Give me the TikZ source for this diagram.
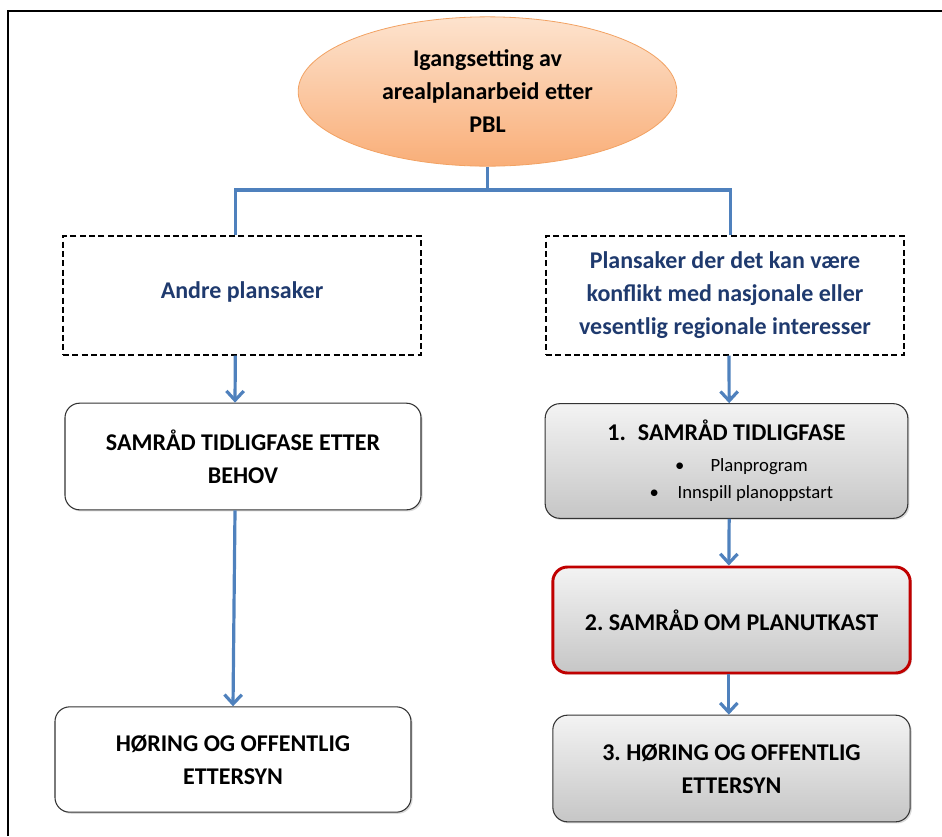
\documentclass[tikz,border=0pt]{standalone}
\usepackage{fontspec}
\setmainfont{Carlito}
\usetikzlibrary{shapes.geometric,arrows.meta,shadows}
\definecolor{linkblue}{HTML}{4F81BD}
\definecolor{casenavy}{HTML}{1F3A6E}
\definecolor{peachtop}{HTML}{FDE3CE}
\definecolor{peachbot}{HTML}{F9AE78}
\definecolor{peachline}{HTML}{F2A263}
\definecolor{greytop}{HTML}{F3F3F3}
\definecolor{greybot}{HTML}{C6C6C6}
\definecolor{stepred}{HTML}{C00000}
\frenchspacing

\begin{document}
\begin{tikzpicture}[x=0.75pt,y=-0.75pt]
            \tikzstyle{big text}=[font=\bfseries\fontsize{18}{24.75}\selectfont,align=center]
            \tikzstyle{start node}=[ellipse,big text,draw=peachline,line width=0.6pt,top color=peachtop,bottom color=peachbot,minimum width=284pt,minimum height=112pt,inner sep=0pt]
            \tikzstyle{case node}=[rectangle,big text,draw,dash pattern=on 4.5pt off 2.5pt,line width=1.1pt,text=casenavy,minimum width=268.5pt,minimum height=89pt]
            \tikzstyle{plain step}=[rectangle,rounded corners=11pt,big text,draw=black!80,line width=0.8pt,fill=white,minimum height=80pt,drop shadow={shadow xshift=1.2pt,shadow yshift=-1.2pt,opacity=0.3}]
            \tikzstyle{grey step}=[plain step,top color=greytop,bottom color=greybot]
            \tikzstyle{link}=[draw=linkblue,line width=2.4pt]
            \tikzstyle{link arrow}=[link,-{Straight Barb[length=7pt,width=13pt,line width=2.4pt]}]

            \useasboundingbox (0,0) rectangle (942,836);
            % frame
            \draw[line width=1.6pt] (8,836) -- (8,11) -- (942,11);

            \node(start)[start node] at (487.5,91.5) {Igangsetting av\\arealplanarbeid etter\\PBL};
            \node(andre)[case node] at (242,295.5) {\raisebox{8pt}{Andre plansaker}};
            \node(konflikt)[case node] at (725,295.5) {Plansaker der det kan være\\konflikt med nasjonale eller\\vesentlig regionale interesser};

            \node(tidlig)[plain step,minimum width=267pt] at (243,456.5) {SAMRÅD TIDLIGFASE ETTER\\BEHOV};
            \node(horing)[plain step,minimum width=267pt,minimum height=79pt] at (233,759.5) {HØRING OG OFFENTLIG\\ETTERSYN};

            \node(fase)[grey step,minimum width=272pt,minimum height=86pt] at (726.5,461) {1.\enspace SAMRÅD TIDLIGFASE\\[-1.5pt]
              {\mdseries\fontsize{14}{20}\selectfont\hspace*{1.6em}\textbullet\hspace{1.4em}Planprogram}\\[-4.5pt]
              {\mdseries\fontsize{14}{20}\selectfont\hspace*{1.6em}\textbullet\hspace{1em}Innspill planoppstart}};
            \node(utkast)[grey step,draw=stepred,line width=2.2pt,minimum width=268pt,minimum height=79.5pt] at (731.5,620) {2. SAMRÅD OM PLANUTKAST};
            \node(horingtre)[grey step,minimum width=268pt] at (731.5,768.5) {3. HØRING OG OFFENTLIG\\ETTERSYN};

            % connectors
            \draw[link] (start.south) -- (487.5,190) coordinate(fork);
            \draw[link] (fork) -| ([xshift=-5pt]andre.north);
            \draw[link] (fork) -| ([xshift=4pt]konflikt.north);
            \draw[link arrow] ([xshift=-5pt]andre.south) -- ([xshift=-6pt]tidlig.north);
            \draw[link arrow] ([xshift=-6pt]tidlig.south) -- (horing.north);
            \draw[link arrow] ([xshift=3pt]konflikt.south) -- ([xshift=2pt]fase.north);
            \draw[link arrow] ([xshift=2pt]fase.south) -- ([xshift=-2pt]utkast.north);
            \draw[link arrow] ([xshift=-2pt]utkast.south) -- ([xshift=-2pt]horingtre.north);
        \end{tikzpicture}
\end{document}
